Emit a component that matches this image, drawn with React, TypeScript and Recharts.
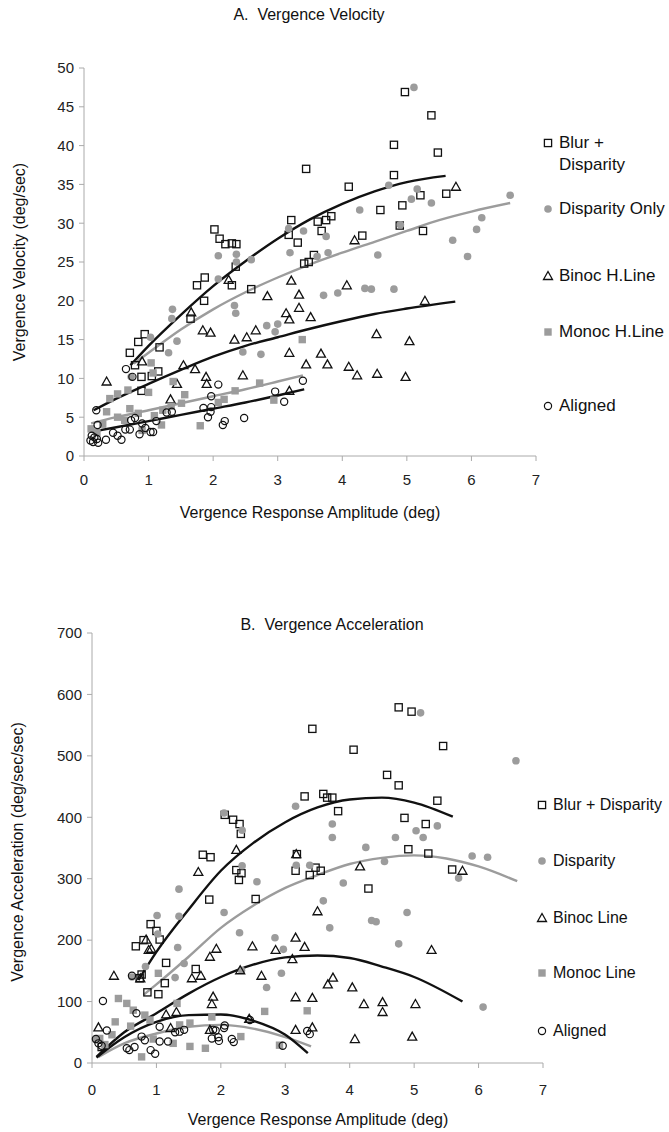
import React from 'react'
import { ComposedChart, Scatter, Line, XAxis, YAxis } from 'recharts'

type P = [number, number]

// ---- A. Vergence Velocity (x: amplitude deg, y: deg/sec)
const velBlurDisp: P[] = [
  [4.97, 46.9], [5.38, 43.9], [4.8, 40.1], [5.48, 39.1], [3.44, 37.0], [4.8, 36.2], [4.1, 34.7], [5.21, 33.6],
  [5.61, 33.8], [4.93, 32.3], [4.59, 31.7], [3.83, 30.9], [3.75, 30.4], [3.62, 30.2], [3.21, 30.4], [3.68, 29.0],
  [3.17, 28.5], [4.89, 29.7], [5.25, 29.0], [4.31, 28.4], [3.31, 27.5], [3.56, 25.9], [3.41, 24.8], [3.48, 25.0],
  [2.59, 21.5], [2.02, 29.2], [2.1, 28.0], [2.19, 27.3], [2.29, 27.4], [2.36, 27.3], [2.35, 24.4], [1.87, 23.0],
  [1.75, 22.0], [2.29, 22.0], [1.86, 20.0], [1.65, 17.7], [0.94, 15.7], [0.84, 14.7], [0.71, 13.3], [1.17, 14.0],
  [0.79, 11.7], [0.89, 10.2], [1.05, 10.3], [1.15, 10.9], [0.89, 8.4],
]
const velDisparity: P[] = [
  [5.11, 47.5], [4.72, 34.9], [5.16, 34.4], [5.07, 33.1], [5.38, 32.6], [4.27, 31.7], [6.6, 33.6], [6.16, 30.7],
  [6.08, 29.2], [5.71, 27.8], [5.94, 25.7], [4.9, 29.8], [3.17, 29.3], [3.4, 29.0], [3.75, 28.3], [3.19, 26.2],
  [3.78, 26.2], [3.61, 25.7], [4.55, 25.9], [2.59, 25.3], [3.71, 20.7], [3.93, 21.0], [4.35, 21.6], [4.45, 21.5],
  [4.8, 21.5], [2.83, 16.8], [3.0, 17.0], [2.96, 16.0], [2.74, 13.1], [2.08, 25.8], [2.36, 26.0], [2.36, 25.0],
  [2.08, 22.8], [2.33, 19.4], [2.35, 18.4], [1.37, 18.9], [1.36, 17.7], [1.44, 14.8], [1.03, 15.3], [1.31, 13.3],
  [2.46, 13.4], [0.73, 10.2],
]
const velBinoc: P[] = [
  [5.76, 34.7], [4.19, 27.8], [3.21, 22.6], [2.84, 20.6], [3.33, 20.8], [4.07, 22.0], [5.28, 20.0], [3.33, 19.1],
  [3.13, 18.4], [3.18, 17.6], [3.51, 17.9], [2.66, 16.2], [4.53, 15.7], [5.04, 14.8], [3.18, 13.3], [3.67, 13.2],
  [3.44, 11.8], [3.77, 11.8], [4.1, 11.5], [4.23, 10.4], [4.54, 10.6], [4.98, 10.2], [3.18, 8.4], [2.24, 22.7],
  [1.66, 18.5], [1.84, 16.2], [1.96, 15.9], [2.33, 15.0], [2.52, 15.3], [0.9, 12.2], [0.35, 9.6], [1.54, 11.7],
  [1.72, 11.2], [1.89, 10.2], [1.9, 9.3], [2.46, 10.4], [1.44, 9.3], [1.34, 7.3],
]
const velMonoc: P[] = [
  [0.4, 7.4], [0.52, 8.0], [0.35, 5.7], [0.11, 3.5], [1.04, 12.0], [1.07, 10.7], [0.68, 8.5], [1.0, 8.2],
  [1.38, 9.6], [1.56, 7.9], [1.8, 3.9], [0.52, 5.0], [0.84, 5.5], [1.09, 5.2], [1.22, 5.9], [1.35, 6.4],
  [1.51, 6.8], [0.71, 6.1], [0.29, 4.1], [0.63, 4.6], [1.2, 4.0], [2.72, 9.4], [2.34, 8.4], [2.94, 7.2],
  [2.17, 7.3], [2.08, 6.9], [3.38, 15.0], [0.2, 3.0], [0.9, 3.3],
]
const velAligned: P[] = [
  [0.1, 2.0], [0.14, 1.8], [0.16, 2.4], [0.2, 2.2], [0.12, 2.6], [0.22, 1.7], [0.34, 2.1], [0.52, 2.6],
  [0.58, 2.1], [0.64, 3.4], [0.71, 3.4], [0.86, 2.8], [0.95, 3.6], [1.03, 3.1], [1.07, 3.1], [0.73, 4.6],
  [0.79, 4.9], [1.12, 4.5], [1.28, 5.6], [1.36, 5.7], [0.65, 11.2], [0.75, 10.2], [0.19, 5.9], [0.21, 4.0],
  [1.85, 6.2], [1.97, 6.3], [1.96, 5.7], [1.92, 5.0], [2.08, 9.2], [2.18, 4.5], [2.15, 4.0], [1.97, 7.7],
  [3.39, 9.7], [2.96, 8.3], [3.1, 7.0], [2.48, 4.9], [0.45, 3.0], [0.9, 4.2],
]
// trend lines
const velBlurDispFit: P[] = [[0.72, 11.7], [1.0, 14.2], [1.5, 18.2], [2.0, 21.9], [2.5, 25.1], [3.0, 28.0], [3.5, 30.5], [4.0, 32.5], [4.5, 34.1], [5.0, 35.3], [5.6, 36.1]]
const velDispFit: P[] = [[0.77, 11.9], [1.0, 13.3], [1.5, 16.3], [2.0, 18.9], [2.5, 21.1], [3.0, 23.0], [3.5, 24.7], [4.0, 26.2], [4.5, 27.6], [5.0, 29.0], [5.5, 30.4], [6.0, 31.5], [6.6, 32.6]]
const velBinocFit: P[] = [[0.15, 5.9], [0.5, 7.4], [1.0, 9.3], [1.5, 11.1], [2.0, 12.8], [2.5, 14.2], [3.0, 15.3], [3.5, 16.4], [4.0, 17.4], [4.5, 18.3], [5.0, 19.0], [5.75, 19.9]]
const velMonocFit: P[] = [[0.11, 4.2], [0.5, 5.0], [1.0, 5.9], [1.5, 6.8], [2.0, 7.7], [2.5, 8.6], [3.0, 9.6], [3.39, 10.4]]
const velAlignedFit: P[] = [[0.11, 3.1], [0.5, 3.7], [1.0, 4.5], [1.5, 5.3], [2.0, 6.1], [2.5, 6.9], [3.0, 7.8], [3.41, 8.6]]

// ---- B. Vergence Acceleration (y: deg/sec/sec)
const accBlurDisp: P[] = [
  [4.76, 579], [4.96, 572], [3.42, 544], [4.06, 510], [5.45, 516], [4.58, 469], [4.76, 452], [3.3, 434],
  [3.59, 438], [3.65, 432], [3.73, 432], [5.36, 427], [3.82, 410], [4.85, 399], [5.18, 389], [4.91, 348],
  [5.22, 341], [5.59, 315], [3.18, 340], [3.16, 313], [3.38, 306], [3.47, 318], [3.55, 313], [4.29, 284],
  [2.06, 404], [2.19, 396], [2.29, 389], [2.31, 373], [1.72, 339], [1.84, 335], [2.24, 314], [2.32, 309],
  [2.28, 298], [1.82, 266], [2.54, 267], [0.91, 226], [1.0, 215], [0.8, 200], [0.68, 190], [1.05, 201],
  [1.15, 163], [0.77, 144], [0.74, 138], [0.86, 115], [1.03, 112], [1.13, 130], [1.61, 153], [0.15, 26],
]
const accDisparity: P[] = [
  [5.1, 570], [6.58, 492], [3.16, 418], [3.73, 389], [3.73, 367], [4.71, 367], [5.03, 378], [5.14, 367],
  [5.36, 386], [4.25, 351], [5.9, 337], [6.14, 335], [5.69, 301], [4.54, 328], [3.17, 322], [3.38, 322],
  [3.9, 293], [3.59, 264], [4.89, 245], [4.34, 232], [4.41, 230], [3.69, 220], [4.76, 194], [2.97, 185],
  [2.94, 146], [6.07, 91], [2.05, 407], [2.33, 379], [2.33, 321], [1.35, 283], [2.56, 295], [1.01, 240],
  [1.35, 239], [2.05, 245], [2.29, 212], [1.02, 210], [1.33, 188], [2.84, 204], [1.43, 162], [1.29, 139],
  [2.71, 123], [0.62, 140], [0.83, 157], [0.06, 38], [2.32, 151],
]
const accBinoc: P[] = [
  [2.24, 347], [1.65, 311], [3.17, 340], [0.84, 201], [0.88, 184], [0.92, 186], [0.34, 142], [0.75, 138],
  [1.93, 186], [1.83, 173], [2.49, 190], [2.85, 184], [3.16, 204], [3.11, 169], [1.55, 138], [1.69, 142],
  [2.3, 151], [2.63, 142], [1.88, 108], [1.86, 96], [1.15, 79], [1.31, 83], [2.44, 72], [1.83, 54],
  [3.16, 107], [3.16, 54], [0.1, 58], [1.22, 57], [4.16, 320], [5.75, 313], [3.5, 247], [3.3, 189],
  [5.27, 184], [3.74, 139], [3.66, 128], [4.04, 123], [3.42, 106], [4.22, 96], [4.51, 99], [4.51, 83],
  [5.02, 96], [3.42, 58], [4.08, 39], [4.97, 43],
]
const accMonoc: P[] = [
  [3.34, 85], [1.03, 146], [1.32, 97], [0.41, 105], [0.54, 97], [0.64, 86], [0.36, 67], [0.82, 78],
  [0.9, 70], [0.31, 46], [0.12, 40], [1.52, 65], [0.77, 10], [1.52, 27], [1.76, 24], [1.86, 75],
  [2.31, 43], [2.68, 84], [2.91, 29], [0.95, 39], [1.26, 32], [1.36, 62], [0.2, 30], [0.6, 60],
]
const accAligned: P[] = [
  [0.17, 101], [0.62, 142], [0.69, 81], [0.23, 53], [0.06, 39], [0.1, 32], [0.15, 28], [0.54, 24],
  [0.58, 21], [0.66, 26], [0.91, 21], [0.98, 15], [1.05, 35], [1.18, 35], [1.05, 59], [0.77, 43],
  [0.82, 37], [1.36, 51], [1.43, 54], [1.88, 54], [1.92, 53], [1.86, 40], [1.96, 42], [1.97, 36],
  [2.06, 61], [2.17, 39], [2.2, 34], [2.45, 70], [2.96, 28], [1.29, 50], [2.05, 57], [3.34, 52], [3.38, 47],
]
const accBlurDispFit: P[] = [[0.72, 135], [1.0, 181], [1.5, 250], [2.0, 313], [2.5, 358], [3.0, 392], [3.5, 416], [4.0, 429], [4.5, 432], [5.0, 424], [5.6, 401]]
const accDispFit: P[] = [[0.8, 111], [1.0, 128], [1.5, 173], [2.0, 220], [2.5, 256], [3.0, 285], [3.5, 306], [4.0, 324], [4.5, 334], [5.0, 338], [5.5, 333], [6.0, 320], [6.6, 296]]
const accBinocFit: P[] = [[0.07, 10], [0.5, 50], [1.0, 81], [1.5, 113], [2.0, 140], [2.5, 160], [3.0, 172], [3.5, 175], [4.0, 171], [4.5, 157], [5.0, 140], [5.75, 100]]
const accMonocFit: P[] = [[0.1, 10], [0.5, 32], [1.0, 48], [1.5, 59], [2.0, 62], [2.5, 56], [3.0, 42], [3.4, 27]]
const accAlignedFit: P[] = [[0.07, 9], [0.5, 42], [1.0, 67], [1.5, 78], [2.0, 79], [2.5, 69], [3.0, 46], [3.35, 16]]

const xTicks = [0, 1, 2, 3, 4, 5, 6, 7]
const velTicks = [0, 5, 10, 15, 20, 25, 30, 35, 40, 45, 50]
const accTicks = [0, 100, 200, 300, 400, 500, 600, 700]

const legendA = ['Blur +\nDisparity', 'Disparity Only', 'Binoc H.Line', 'Monoc H.Line', 'Aligned']
const legendB = ['Blur + Disparity', 'Disparity', 'Binoc Line', 'Monoc Line', 'Aligned']

const FONT = '"Liberation Sans", Arial, sans-serif'
const GRAY = '#9c9c9c'
const INK = '#111'

const pts = (arr: P[]) => arr.map(([x, y]) => ({ x, y }))

const OpenSquare = (p: any) => <rect x={p.cx - 3.6} y={p.cy - 3.6} width={7.2} height={7.2} fill="none" stroke={INK} strokeWidth={1.3} />
const GrayDot = (p: any) => <circle cx={p.cx} cy={p.cy} r={3.8} fill={GRAY} />
const OpenTri = (p: any) => (
  <path d={`M${p.cx},${p.cy - 4.5} L${p.cx + 4.5},${p.cy + 3.5} L${p.cx - 4.5},${p.cy + 3.5} Z`} fill="none" stroke={INK} strokeWidth={1.3} />
)
const GraySquare = (p: any) => <rect x={p.cx - 3.7} y={p.cy - 3.7} width={7.4} height={7.4} fill={GRAY} />
const OpenCircle = (p: any) => <circle cx={p.cx} cy={p.cy} r={3.6} fill="none" stroke={INK} strokeWidth={1.2} />

const shapes = [OpenSquare, GrayDot, OpenTri, GraySquare, OpenCircle]

function Panel(props: {
  top: number
  height: number
  margin: any
  yWidth: number
  yMax: number
  yTicks: number[]
  xTickMargin: number
  series: P[][]
  fits: P[][]
}) {
  const { top, height, margin, yWidth, yMax, yTicks, xTickMargin, series, fits } = props
  const fitColors = [INK, GRAY, INK, GRAY, INK]
  return (
    <div style={{ position: 'absolute', left: 0, top }}>
      <ComposedChart width={669} height={height} margin={margin}>
        <XAxis
          type="number"
          dataKey="x"
          domain={[0, 7]}
          ticks={xTicks}
          height={30}
          tickSize={5}
          tickMargin={xTickMargin}
          stroke="#aaa"
          tick={{ fontSize: 15, fill: '#222', fontFamily: FONT }}
        />
        <YAxis
          type="number"
          dataKey="y"
          domain={[0, yMax]}
          ticks={yTicks}
          width={yWidth}
          tickSize={5}
          tickMargin={5}
          stroke="#aaa"
          tick={{ fontSize: 15, fill: '#222', fontFamily: FONT }}
        />
        {series.map((s, i) => (
          <Scatter key={'s' + i} data={pts(s)} shape={shapes[i]} isAnimationActive={false} />
        ))}
        {fits.map((f, i) => (
          <Line
            key={'f' + i}
            data={pts(f)}
            dataKey="y"
            type="monotone"
            dot={false}
            stroke={fitColors[i]}
            strokeWidth={2.4}
            isAnimationActive={false}
          />
        ))}
      </ComposedChart>
    </div>
  )
}

function LegendMark({ i }: { i: number }) {
  const S = shapes[i]
  return (
    <svg width={12} height={12} style={{ position: 'absolute', left: -6, top: -6 }}>
      <S cx={6} cy={6} />
    </svg>
  )
}

function Legend(props: { x: number; ys: number[]; labels: string[]; size: number }) {
  return (
    <>
      {props.labels.map((lab, i) => (
        <div key={lab} style={{ position: 'absolute', left: props.x, top: props.ys[i] }}>
          <LegendMark i={i} />
          <div style={{ position: 'absolute', left: 11, top: -11, lineHeight: '22px', whiteSpace: 'pre', fontSize: props.size }}>{lab}</div>
        </div>
      ))}
    </>
  )
}

const textAt = (x: number, y: number, rotate = false): React.CSSProperties => ({
  position: 'absolute',
  left: x,
  top: y,
  transform: `translate(-50%, -50%)${rotate ? ' rotate(-90deg)' : ''}`,
  whiteSpace: 'pre',
  fontSize: 16,
})

export default function App() {
  return (
    <div style={{ position: 'absolute', left: 0, top: 0, width: 669, height: 1132, background: '#fff', fontFamily: FONT, color: '#111' }}>
      <Panel
        top={0}
        height={540}
        margin={{ top: 68, right: 133, bottom: 54, left: 0 }}
        yWidth={84}
        yMax={50}
        yTicks={velTicks}
        xTickMargin={13}
        series={[velBlurDisp, velDisparity, velBinoc, velMonoc, velAligned]}
        fits={[velBlurDispFit, velDispFit, velBinocFit, velMonocFit, velAlignedFit]}
      />
      <div style={textAt(309, 15)}>A.  Vergence Velocity</div>
      <div style={textAt(20, 262, true)}>Vergence Velocity (deg/sec)</div>
      <div style={textAt(310, 513)}>Vergence Response Amplitude (deg)</div>
      <Legend x={548} ys={[143, 209, 276, 332, 406]} labels={legendA} size={17} />

      <Panel
        top={580}
        height={552}
        margin={{ top: 53, right: 126, bottom: 39, left: 0 }}
        yWidth={92}
        yMax={700}
        yTicks={accTicks}
        xTickMargin={16}
        series={[accBlurDisp, accDisparity, accBinoc, accMonoc, accAligned]}
        fits={[accBlurDispFit, accDispFit, accBinocFit, accMonocFit, accAlignedFit]}
      />
      <div style={textAt(332, 625)}>B.  Vergence Acceleration</div>
      <div style={textAt(18, 852, true)}>Vergence Acceleration (deg/sec/sec)</div>
      <div style={textAt(318, 1120)}>Vergence Response Amplitude (deg)</div>
      <Legend x={542} ys={[805, 861, 918, 973, 1031]} labels={legendB} size={16} />
    </div>
  )
}
